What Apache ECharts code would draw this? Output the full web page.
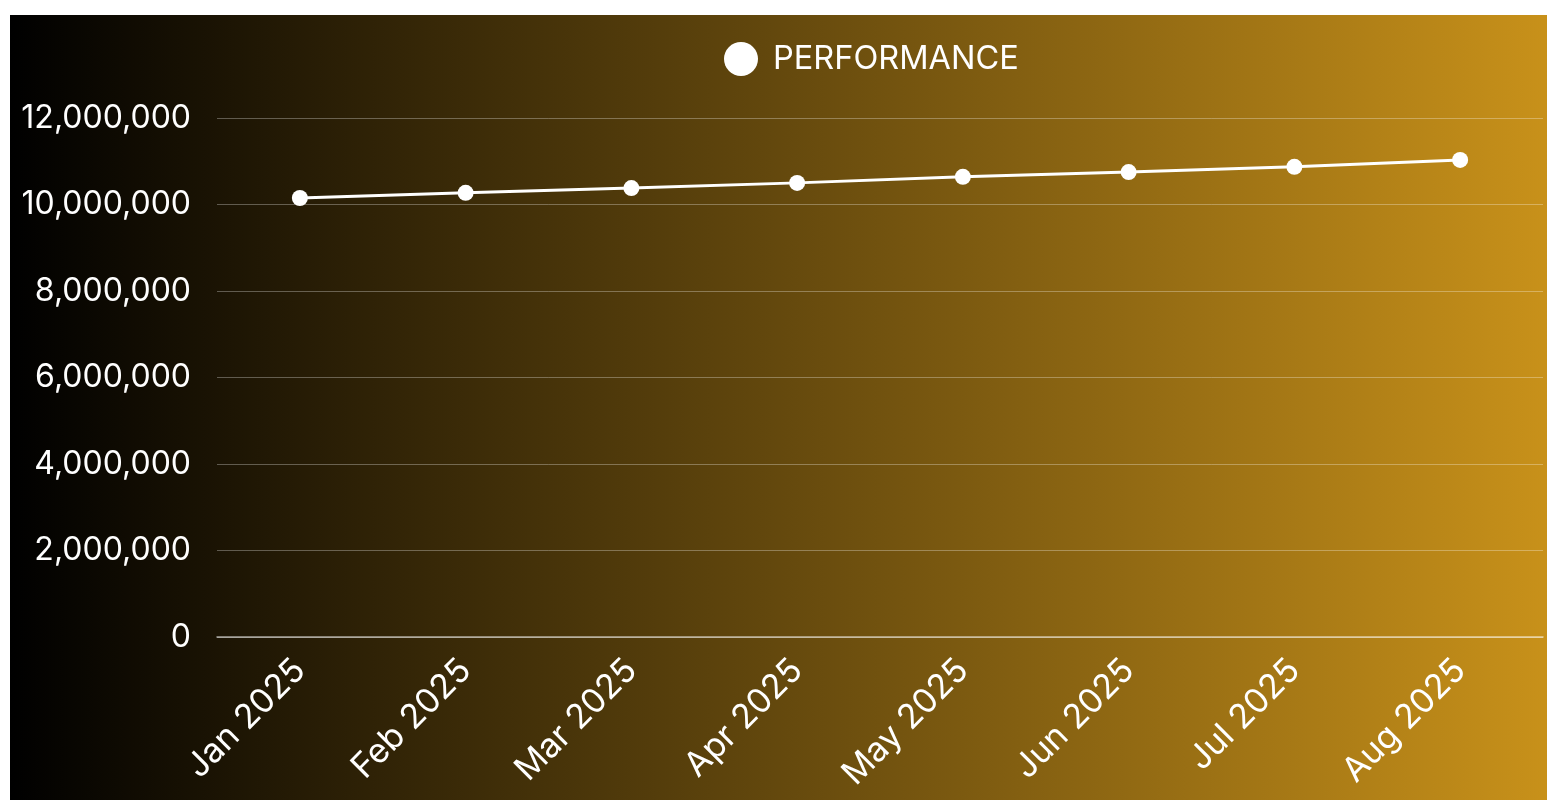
<!DOCTYPE html>
<html>
<head>
<meta charset="utf-8">
<script src="https://cdn.jsdelivr.net/npm/echarts@6/dist/echarts.min.js"></script>
<style>
  html, body { margin: 0; padding: 0; background: #fff; }
  #chart { position: absolute; left: 10px; top: 15px; width: 1537px; height: 785px; }
</style>
</head>
<body>
<div id="chart"></div>
<script>
// chart data
const months = ["Jan 2025", "Feb 2025", "Mar 2025", "Apr 2025", "May 2025", "Jun 2025", "Jul 2025", "Aug 2025"];
const performance = [10150000, 10270000, 10380000, 10500000, 10640000, 10750000, 10870000, 11030000];
const yTicks = [0, 2000000, 4000000, 6000000, 8000000, 10000000, 12000000];

function chartSetup(container) {
  let myChart = echarts.init(container),
    option;
  const font = "Inter";
  option = {
    backgroundColor: new echarts.graphic.LinearGradient(0, 0, 1, 0, [
      { offset: 0, color: "#000000" },
      { offset: 1, color: "#c8911a" }
    ]),
    textStyle: { fontFamily: font },
    legend: {
      top: 22,
      left: 709,
      icon: "circle",
      itemWidth: 34,
      itemHeight: 34,
      itemGap: 10,
      textStyle: { color: "#fff", fontSize: 32.5, fontFamily: font, padding: [0, 0, 0, 10] },
      data: ["PERFORMANCE"]
    },
    grid: {
      left: 207,
      right: 4,
      top: 103,
      bottom: 163
    },
    xAxis: {
      type: "category",
      data: months,
      axisTick: { show: false },
      axisLine: { lineStyle: { color: "rgba(255,255,255,0.6)", width: 1.5 } },
      axisLabel: {
        color: "#fff",
        fontSize: 34,
        rotate: 45,
        margin: 28,
        fontFamily: font
      }
    },
    yAxis: {
      type: "value",
      min: yTicks[0],
      max: yTicks[yTicks.length - 1],
      interval: 2000000,
      axisLabel: {
        color: "#fff",
        fontSize: 32,
        margin: 26,
        fontFamily: font,
        formatter: function (v) {
          return v.toLocaleString("en-US");
        }
      },
      splitLine: { lineStyle: { color: "rgba(255,255,255,0.3)", width: 1 } }
    },
    series: [
      {
        name: "PERFORMANCE",
        type: "line",
        data: performance,
        symbol: "circle",
        symbolSize: 16,
        lineStyle: { color: "#fff", width: 3 },
        itemStyle: { color: "#fff" }
      }
    ]
  };

  if (option && typeof option === "object") myChart.setOption(option);
  window.addEventListener("resize", function () {
    myChart.resize();
  });
}
chartSetup(document.getElementById("chart"));
</script>
</body>
</html>
